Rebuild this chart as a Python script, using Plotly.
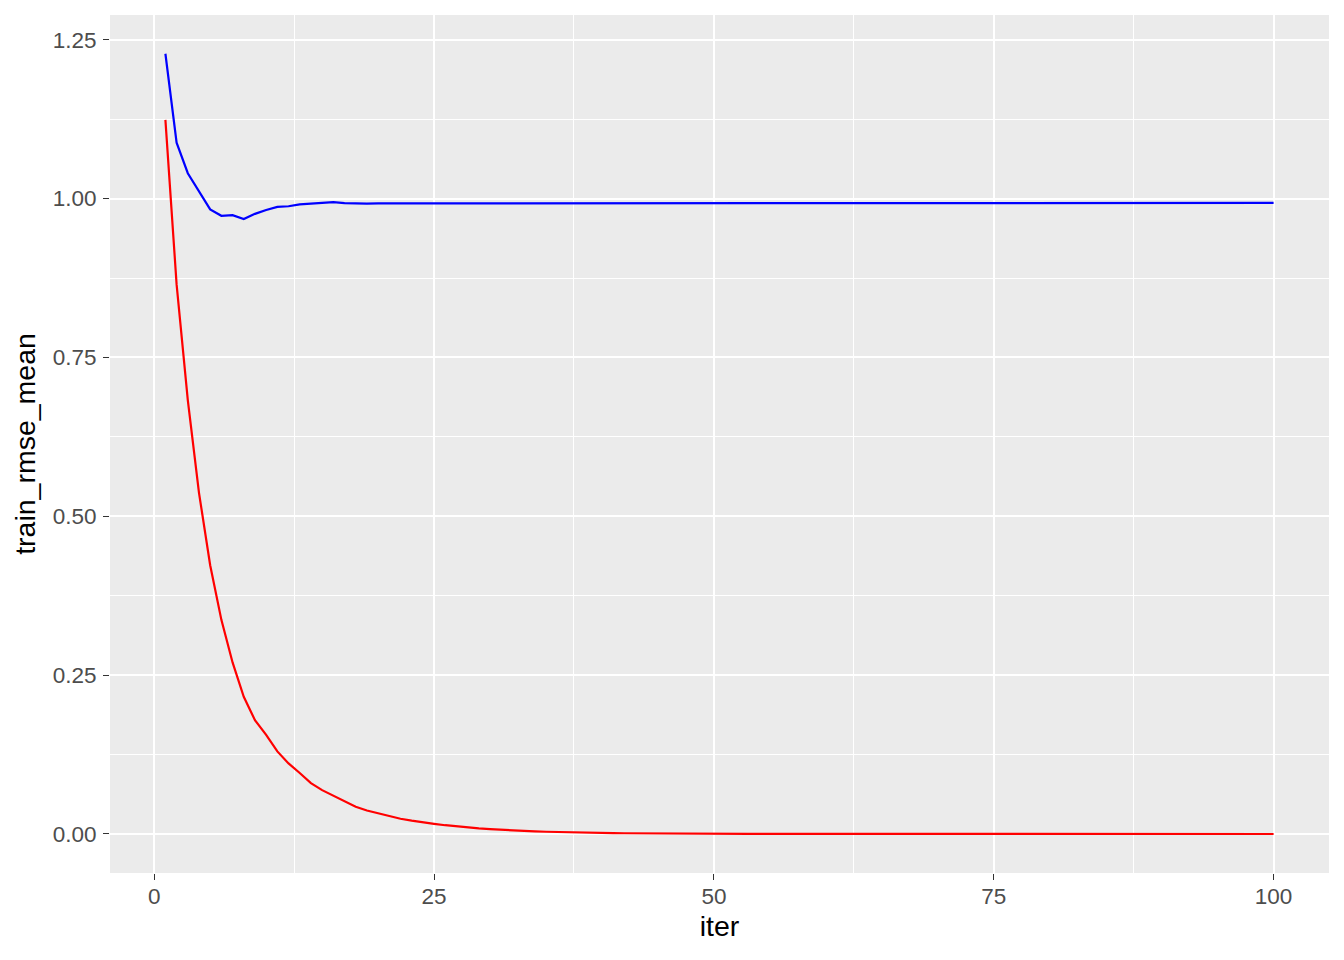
import plotly.graph_objects as go

iters = list(range(1, 101))

train_rmse_blue = [
    1.228, 1.088, 1.040, 1.011, 0.983, 0.973, 0.974, 0.968, 0.976, 0.982,
    0.987, 0.988, 0.991, 0.992, 0.993, 0.9945, 0.993, 0.992, 0.992, 0.9925,
    0.992, 0.9925, 0.9925, 0.9925, 0.9926, 0.9935, 0.9936, 0.9936, 0.9936, 0.9935,
    0.9935, 0.9934, 0.9934, 0.9934, 0.9934, 0.9933, 0.9933, 0.9933, 0.9933, 0.9933,
    0.9933, 0.9933, 0.9933, 0.9933, 0.9933, 0.9933, 0.9933, 0.9933, 0.9933, 0.9933,
    0.9933, 0.9933, 0.9933, 0.9933, 0.9933, 0.9933, 0.9933, 0.9933, 0.9933, 0.9933,
    0.9933, 0.9933, 0.9933, 0.9933, 0.9933, 0.9933, 0.9933, 0.9933, 0.9933, 0.9933,
    0.9933, 0.9933, 0.9933, 0.9933, 0.9933, 0.9933, 0.9933, 0.9933, 0.9933, 0.9933,
    0.9933, 0.9933, 0.9933, 0.9933, 0.9933, 0.9933, 0.9933, 0.9933, 0.9933, 0.9933,
    0.9933, 0.9933, 0.9933, 0.9933, 0.9933, 0.9933, 0.9933, 0.9933, 0.9933, 0.9933,
]

train_rmse_red = [
    1.124, 0.865, 0.683, 0.537, 0.423, 0.337, 0.270, 0.216, 0.179, 0.156,
    0.130, 0.111, 0.096, 0.080, 0.069, 0.060, 0.051, 0.043, 0.037, 0.0325,
    0.028, 0.024, 0.021, 0.018, 0.016, 0.0138, 0.0119, 0.0102, 0.0088, 0.0076,
    0.0065, 0.0056, 0.0048, 0.0041, 0.0035, 0.0030, 0.0026, 0.0022, 0.0019, 0.0016,
    0.0014, 0.0012, 0.0010, 0.0009, 0.0008, 0.0007, 0.0006, 0.0005, 0.0004, 0.0004,
    0.0003, 0.0003, 0.0003, 0.0002, 0.0002, 0.0002, 0.0002, 0.0001, 0.0001, 0.0001,
    0.0001, 0.0001, 0.0001, 0.0001, 0.0001, 0.0000, 0.0000, 0.0000, 0.0000, 0.0000,
    0.0000, 0.0000, 0.0000, 0.0000, 0.0000, 0.0000, 0.0000, 0.0000, 0.0000, 0.0000,
    0.0000, 0.0000, 0.0000, 0.0000, 0.0000, 0.0000, 0.0000, 0.0000, 0.0000, 0.0000,
    0.0000, 0.0000, 0.0000, 0.0000, 0.0000, 0.0000, 0.0000, 0.0000, 0.0000, 0.0000,
]

x_ticks = [0, 25, 50, 75, 100]
y_ticks = [0.00, 0.25, 0.50, 0.75, 1.00, 1.25]

fig = go.Figure()
fig.add_trace(go.Scatter(x=iters, y=train_rmse_blue, mode="lines",
                         line=dict(color="#0000FF", width=2.2), showlegend=False))
fig.add_trace(go.Scatter(x=iters, y=train_rmse_red, mode="lines",
                         line=dict(color="#FF0000", width=2.2), showlegend=False))

font_family = "Liberation Sans, Arial, Helvetica, sans-serif"

fig.update_layout(
    width=1336, height=952,
    margin=dict(l=102, r=15, t=7, b=87),
    paper_bgcolor="white",
    plot_bgcolor="#EBEBEB",
    font=dict(family=font_family),
    xaxis=dict(
        range=[-3.95, 104.95],
        tickvals=x_ticks,
        ticktext=[str(v) for v in x_ticks],
        showgrid=True, gridcolor="white", gridwidth=2.2,
        zeroline=False, showline=False,
        ticks="outside", ticklen=6, tickwidth=1.1, tickcolor="#333333",
        tickfont=dict(size=22.5, color="#4D4D4D"),
        ticklabelstandoff=-3,
        minor=dict(tickvals=[12.5, 37.5, 62.5, 87.5], showgrid=True,
                   gridcolor="white", gridwidth=1.1, ticks=""),
        title=dict(text="iter", font=dict(size=28.5, color="black"), standoff=8),
    ),
    yaxis=dict(
        range=[-0.0614, 1.289],
        tickvals=y_ticks,
        ticktext=["%.2f" % v for v in y_ticks],
        showgrid=True, gridcolor="white", gridwidth=2.2,
        zeroline=False, showline=False,
        ticks="outside", ticklen=6, tickwidth=1.1, tickcolor="#333333",
        tickfont=dict(size=22.5, color="#4D4D4D"),
        ticklabelstandoff=2,
        minor=dict(tickvals=[0.125, 0.375, 0.625, 0.875, 1.125], showgrid=True,
                   gridcolor="white", gridwidth=1.1, ticks=""),
        title=dict(text="train_rmse_mean", font=dict(size=28.5, color="black"), standoff=8),
    ),
)

fig.write_html("out.html")
